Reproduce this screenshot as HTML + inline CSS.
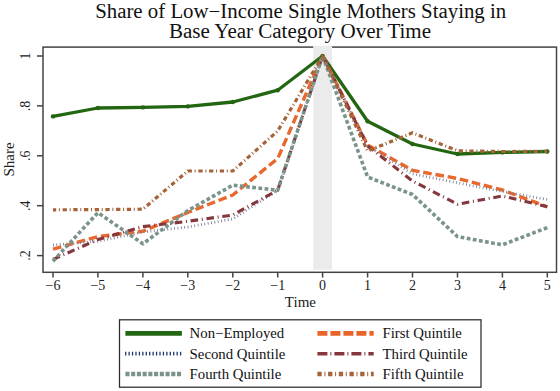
<!DOCTYPE html>
<html><head><meta charset="utf-8"><style>
html,body{margin:0;padding:0;background:#fff;}
svg{display:block;font-family:"Liberation Serif",serif;}
</style></head><body>
<svg width="560" height="391" viewBox="0 0 560 391">
<rect width="560" height="391" fill="#fff"/>
<g font-size="20" text-anchor="middle" fill="#111">
<text x="300.7" y="17.7" textLength="411" lengthAdjust="spacingAndGlyphs">Share of Low&#8722;Income Single Mothers Staying in</text>
<text x="300" y="37.6" textLength="262" lengthAdjust="spacingAndGlyphs">Base Year Category Over Time</text>
</g>
<rect x="43" y="47.1" width="513.5" height="225.2" fill="none" stroke="#444" stroke-width="1.5"/>
<g stroke="#444" stroke-width="1.5"><line x1="37" y1="56.0" x2="43" y2="56.0"/><line x1="37" y1="105.9" x2="43" y2="105.9"/><line x1="37" y1="155.8" x2="43" y2="155.8"/><line x1="37" y1="205.7" x2="43" y2="205.7"/><line x1="37" y1="255.6" x2="43" y2="255.6"/><line x1="53.0" y1="272" x2="53.0" y2="277.5"/><line x1="97.9" y1="272" x2="97.9" y2="277.5"/><line x1="142.9" y1="272" x2="142.9" y2="277.5"/><line x1="187.8" y1="272" x2="187.8" y2="277.5"/><line x1="232.8" y1="272" x2="232.8" y2="277.5"/><line x1="277.7" y1="272" x2="277.7" y2="277.5"/><line x1="322.6" y1="272" x2="322.6" y2="277.5"/><line x1="367.6" y1="272" x2="367.6" y2="277.5"/><line x1="412.5" y1="272" x2="412.5" y2="277.5"/><line x1="457.5" y1="272" x2="457.5" y2="277.5"/><line x1="502.4" y1="272" x2="502.4" y2="277.5"/><line x1="547.3" y1="272" x2="547.3" y2="277.5"/></g>
<g font-size="14" fill="#222"><text transform="translate(30.2,56.0) rotate(-90)" text-anchor="middle">1</text><text transform="translate(30.2,105.9) rotate(-90)" text-anchor="middle">.8</text><text transform="translate(30.2,155.8) rotate(-90)" text-anchor="middle">.6</text><text transform="translate(30.2,205.7) rotate(-90)" text-anchor="middle">.4</text><text transform="translate(30.2,255.6) rotate(-90)" text-anchor="middle">.2</text><text x="53.0" y="290.1" text-anchor="middle">&#8722;6</text><text x="97.9" y="290.1" text-anchor="middle">&#8722;5</text><text x="142.9" y="290.1" text-anchor="middle">&#8722;4</text><text x="187.8" y="290.1" text-anchor="middle">&#8722;3</text><text x="232.8" y="290.1" text-anchor="middle">&#8722;2</text><text x="277.7" y="290.1" text-anchor="middle">&#8722;1</text><text x="322.6" y="290.1" text-anchor="middle">0</text><text x="367.6" y="290.1" text-anchor="middle">1</text><text x="412.5" y="290.1" text-anchor="middle">2</text><text x="457.5" y="290.1" text-anchor="middle">3</text><text x="502.4" y="290.1" text-anchor="middle">4</text><text x="547.3" y="290.1" text-anchor="middle">5</text></g>
<text x="300.4" y="306.6" font-size="15" text-anchor="middle" fill="#222">Time</text>
<text transform="translate(14,159.5) rotate(-90)" font-size="15" text-anchor="middle" fill="#222">Share</text>
<rect x="313.2" y="45.8" width="18.8" height="223.9" fill="#ebebeb"/>
<polyline fill="none" stroke-linejoin="round" points="53.0,116.4 97.9,108.0 142.9,107.4 187.8,106.4 232.8,102.0 277.7,90.2 322.6,56.0 367.6,121.2 412.5,144.0 457.5,154.0 502.4,152.4 547.3,151.5" stroke="#236612" stroke-width="3.3" stroke-linecap="round"/><circle cx="53.0" cy="116.4" r="2.2" fill="#236612"/><circle cx="97.9" cy="108.0" r="2.2" fill="#236612"/><circle cx="142.9" cy="107.4" r="2.2" fill="#236612"/><circle cx="187.8" cy="106.4" r="2.2" fill="#236612"/><circle cx="232.8" cy="102.0" r="2.2" fill="#236612"/><circle cx="277.7" cy="90.2" r="2.2" fill="#236612"/><circle cx="322.6" cy="56.0" r="2.2" fill="#236612"/><circle cx="367.6" cy="121.2" r="2.2" fill="#236612"/><circle cx="412.5" cy="144.0" r="2.2" fill="#236612"/><circle cx="457.5" cy="154.0" r="2.2" fill="#236612"/><circle cx="502.4" cy="152.4" r="2.2" fill="#236612"/><circle cx="547.3" cy="151.5" r="2.2" fill="#236612"/>
<polyline fill="none" stroke-linejoin="round" points="53.0,249.1 97.9,236.6 142.9,231.2 187.8,212.5 232.8,195.0 277.7,158.5 322.6,56.0 367.6,145.0 412.5,170.3 457.5,178.5 502.4,190.0 547.3,206.8" stroke="#e8682e" stroke-width="3.4" stroke-dasharray="8.6 3.8"/>
<polyline fill="none" stroke-linejoin="round" points="53.0,245.0 97.9,241.3 142.9,232.0 187.8,227.0 232.8,219.0 277.7,190.2 322.6,56.0 367.6,146.0 412.5,173.8 457.5,182.8 502.4,191.5 547.3,199.5" stroke="#7a7e94" stroke-width="2.8" stroke-dasharray="0.85 2.55"/>
<polyline fill="none" stroke-linejoin="round" points="53.0,259.5 97.9,239.5 142.9,226.6 187.8,221.3 232.8,215.0 277.7,190.2 322.6,56.0 367.6,146.0 412.5,181.0 457.5,204.2 502.4,196.0 547.3,206.8" stroke="#84383e" stroke-width="3.1" stroke-dasharray="7.6 3.7 1 3.7"/>
<polyline fill="none" stroke-linejoin="round" points="53.0,261.2 97.9,212.6 142.9,243.8 187.8,210.6 232.8,185.2 277.7,190.2 322.6,56.0 367.6,177.0 412.5,194.5 457.5,236.6 502.4,244.8 547.3,227.6" stroke="#7a948a" stroke-width="3.6" stroke-dasharray="3.75 2.45"/>
<polyline fill="none" stroke-linejoin="round" points="53.0,209.8 97.9,209.6 142.9,209.2 187.8,171.0 232.8,171.0 277.7,131.0 322.6,56.0 367.6,151.0 412.5,132.8 457.5,150.8 502.4,151.5 547.3,151.4" stroke="#a5633a" stroke-width="3.2" stroke-dasharray="4.3 2.7 1 2.7" stroke-dashoffset="1.1"/>

<rect x="119.5" y="319.8" width="361.5" height="67.4" fill="#fff" stroke="#2a2a2a" stroke-width="1.25"/>
<line x1="125.4" y1="333.4" x2="181.9" y2="333.4" stroke="#236612" stroke-width="4.6"/>
<line x1="125.05" y1="353.7" x2="181.9" y2="353.7" stroke="#1e3a6e" stroke-width="3.8" stroke-dasharray="1.3 2.13"/>
<line x1="125.4" y1="374" x2="181.1" y2="374" stroke="#7a948a" stroke-width="4.3" stroke-dasharray="4.1 1.63"/>
<line x1="317.4" y1="333.4" x2="373.7" y2="333.4" stroke="#e8652a" stroke-width="4.6" stroke-dasharray="10 3"/>
<line x1="317.4" y1="353.7" x2="373.7" y2="353.7" stroke="#84383e" stroke-width="3.5" stroke-dasharray="10 3 1 3"/>
<line x1="317.4" y1="374" x2="373.7" y2="374" stroke="#a5633a" stroke-width="4.3" stroke-dasharray="4.3 2.7 1 2.7"/>
<g font-size="14.8" fill="#111">
<text x="189.6" y="338.4">Non&#8722;Employed</text>
<text x="189.6" y="359.1">Second Quintile</text>
<text x="189.6" y="379.1">Fourth Quintile</text>
<text x="382.5" y="338.4">First Quintile</text>
<text x="382.5" y="359.1">Third Quintile</text>
<text x="382.5" y="379.1">Fifth Quintile</text>
</g>

</svg>
</body></html>
